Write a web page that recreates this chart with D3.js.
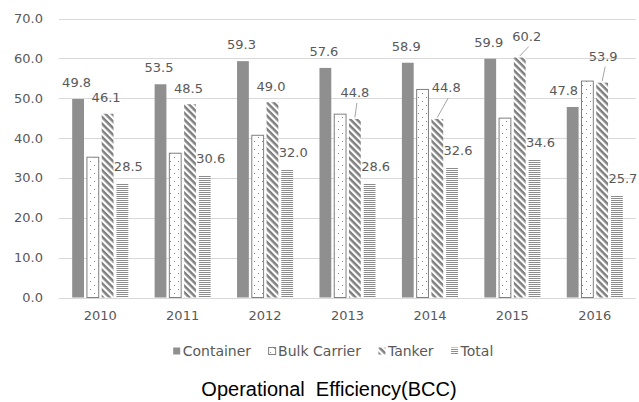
<!DOCTYPE html>
<html>
<head>
<meta charset="utf-8">
<script src="https://cdn.jsdelivr.net/npm/d3@7"></script>
<style>
  body { margin: 0; background: #fff; }
  svg text { font-family: "DejaVu Sans", sans-serif; }
</style>
</head>
<body>
<svg id="chart" width="639" height="402"></svg>
<script>
// values
var years = ["2010", "2011", "2012", "2013", "2014", "2015", "2016"];
var container = [49.8, 53.5, 59.3, 57.6, 58.9, 59.9, 47.8];
var bulkCarrier = [35.2, 36.2, 40.7, 46.0, 52.2, 45.0, 54.3];
var tanker = [46.1, 48.5, 49.0, 44.8, 44.8, 60.2, 53.9];
var total = [28.5, 30.6, 32.0, 28.6, 32.6, 34.6, 25.7];
var seriesNames = ["Container", "Bulk Carrier", "Tanker", "Total"];
var yTicks = [0, 10, 20, 30, 40, 50, 60, 70];

// which series get a data label, and where (label layout only)
var labelShift = {
    "Container": { dx: -1.5, dy: -16.5 },
    "Tanker": { dx: -1.5, dy: -16 },
    "Total": { dx: 6, dy: -17 }
};
var labelNudge = [
    { s: "Container", i: 6, dx: -9, dy: -16, leader: false },
    { s: "Tanker", i: 3, dx: 0, dy: -26, leader: true },
    { s: "Tanker", i: 4, dx: 9, dy: -31, leader: true },
    { s: "Tanker", i: 5, dx: 7, dy: -21, leader: true },
    { s: "Tanker", i: 6, dx: 1, dy: -26, leader: true }
];

var seriesValues = {
    "Container": container,
    "Bulk Carrier": bulkCarrier,
    "Tanker": tanker,
    "Total": total
};

var svg = d3.select("#chart"),
    width = +svg.attr("width"),
    height = +svg.attr("height");

var textGray = "#595959";

var x0 = d3.scaleBand()
    .domain(years)
    .range([59, 636])
    .paddingInner(0.32)
    .paddingOuter(0.16);

var x1 = d3.scaleBand()
    .domain(seriesNames)
    .range([0, x0.bandwidth()])
    .paddingInner(0.2);

var y = d3.scaleLinear()
    .domain([0, 70])
    .range([297.5, 18.5]);

// fill patterns
var defs = svg.append("defs");

var dots = defs.append("pattern")
    .attr("id", "dots")
    .attr("patternUnits", "userSpaceOnUse")
    .attr("width", 8)
    .attr("height", 8);
dots.append("rect").attr("width", 8).attr("height", 8).attr("fill", "#fff");
dots.append("rect").attr("x", 2).attr("y", 1).attr("width", 1).attr("height", 1).attr("fill", "#8a8a8a");
dots.append("rect").attr("x", 6).attr("y", 5).attr("width", 1).attr("height", 1).attr("fill", "#8a8a8a");

var diag = defs.append("pattern")
    .attr("id", "diag")
    .attr("patternUnits", "userSpaceOnUse")
    .attr("width", 4.7)
    .attr("height", 4.7)
    .attr("patternTransform", "rotate(45)");
diag.append("rect").attr("width", 4.7).attr("height", 4.7).attr("fill", "#fff");
diag.append("rect").attr("width", 4.7).attr("height", 2.5).attr("fill", "#7f7f7f");

var hlines = defs.append("pattern")
    .attr("id", "hlines")
    .attr("patternUnits", "userSpaceOnUse")
    .attr("width", 4)
    .attr("height", 2);
hlines.append("rect").attr("width", 4).attr("height", 2).attr("fill", "#fff");
hlines.append("rect").attr("width", 4).attr("height", 1).attr("fill", "#8c8c8c");

var fills = {
    "Container": "#8f8f8f",
    "Bulk Carrier": "url(#dots)",
    "Tanker": "url(#diag)",
    "Total": "url(#hlines)"
};
var strokes = {
    "Container": "none",
    "Bulk Carrier": "#808080",
    "Tanker": "none",
    "Total": "none"
};

// grid + y labels
svg.append("g")
    .selectAll("line")
    .data(yTicks)
    .enter().append("line")
    .attr("x1", 59)
    .attr("x2", 636)
    .attr("y1", function(d) { return Math.round(y(d)) + 0.5; })
    .attr("y2", function(d) { return Math.round(y(d)) + 0.5; })
    .attr("stroke", "#d9d9d9")
    .attr("stroke-width", 1);

svg.append("g")
    .selectAll("text")
    .data(yTicks)
    .enter().append("text")
    .attr("x", 43)
    .attr("y", function(d) { return y(d); })
    .attr("text-anchor", "end")
    .attr("dominant-baseline", "central")
    .attr("fill", textGray)
    .style("font-size", "13px")
    .text(function(d) { return d.toFixed(1); });

// bars
var rows = [];
years.forEach(function(yr, i) {
    seriesNames.forEach(function(s) {
        rows.push({ year: yr, i: i, s: s, v: seriesValues[s][i] });
    });
});

svg.append("g")
    .selectAll("rect")
    .data(rows)
    .enter().append("rect")
    .attr("x", function(d) { return x0(d.year) + x1(d.s); })
    .attr("y", function(d) { return y(d.v); })
    .attr("width", x1.bandwidth())
    .attr("height", function(d) { return y(0) - y(d.v); })
    .attr("fill", function(d) { return fills[d.s]; })
    .attr("stroke", function(d) { return strokes[d.s]; })
    .attr("stroke-width", 1);

// data labels
var labelRows = rows.filter(function(d) { return labelShift[d.s]; }).map(function(d) {
    var off = labelShift[d.s];
    var n = labelNudge.filter(function(k) { return k.s === d.s && k.i === d.i; })[0];
    if (n) off = n;
    var cx = x0(d.year) + x1(d.s) + x1.bandwidth() / 2;
    return {
        v: d.v,
        barX: cx,
        barY: y(d.v),
        lx: cx + off.dx,
        ly: y(d.v) + off.dy,
        leader: n ? n.leader : false
    };
});

svg.append("g")
    .selectAll("line")
    .data(labelRows.filter(function(d) { return d.leader; }))
    .enter().append("line")
    .attr("x1", function(d) { return d.lx + 2; })
    .attr("y1", function(d) { return d.ly + 10; })
    .attr("x2", function(d) { return d.barX; })
    .attr("y2", function(d) { return d.barY - 1.5; })
    .attr("stroke", "#a6a6a6")
    .attr("stroke-width", 1);

svg.append("g")
    .selectAll("text")
    .data(labelRows)
    .enter().append("text")
    .attr("x", function(d) { return d.lx; })
    .attr("y", function(d) { return d.ly; })
    .attr("text-anchor", "middle")
    .attr("dominant-baseline", "central")
    .attr("fill", textGray)
    .style("font-size", "13px")
    .text(function(d) { return d.v.toFixed(1); });

// x labels
svg.append("g")
    .selectAll("text")
    .data(years)
    .enter().append("text")
    .attr("x", function(d) { return x0(d) + x0.bandwidth() / 2; })
    .attr("y", 315)
    .attr("text-anchor", "middle")
    .attr("dominant-baseline", "central")
    .attr("fill", textGray)
    .style("font-size", "13px")
    .text(function(d) { return d; });

// legend
var legend = svg.append("g");
var lx = 0;
seriesNames.forEach(function(s) {
    var item = legend.append("g").attr("transform", "translate(" + lx + ",0)");
    item.append("rect")
        .attr("x", 0.5)
        .attr("y", -3.5)
        .attr("width", 7)
        .attr("height", 7)
        .attr("fill", fills[s])
        .attr("stroke", strokes[s]);
    var t = item.append("text")
        .attr("x", 10)
        .attr("y", 0)
        .attr("dominant-baseline", "central")
        .attr("fill", textGray)
        .style("font-size", "14px")
        .text(s);
    lx += 10 + t.node().getComputedTextLength() + 17;
});
var legendW = lx - 17;
legend.attr("transform", "translate(" + (333 - legendW / 2) + ",351)");

// title
svg.append("text")
    .attr("x", 329)
    .attr("y", 389)
    .attr("text-anchor", "middle")
    .attr("dominant-baseline", "central")
    .attr("fill", "#000")
    .style("font-family", "'Liberation Sans', Arial, sans-serif")
    .style("font-size", "20px")
    .style("white-space", "pre")
    .text("Operational  Efficiency(BCC)");
</script>
</body>
</html>
